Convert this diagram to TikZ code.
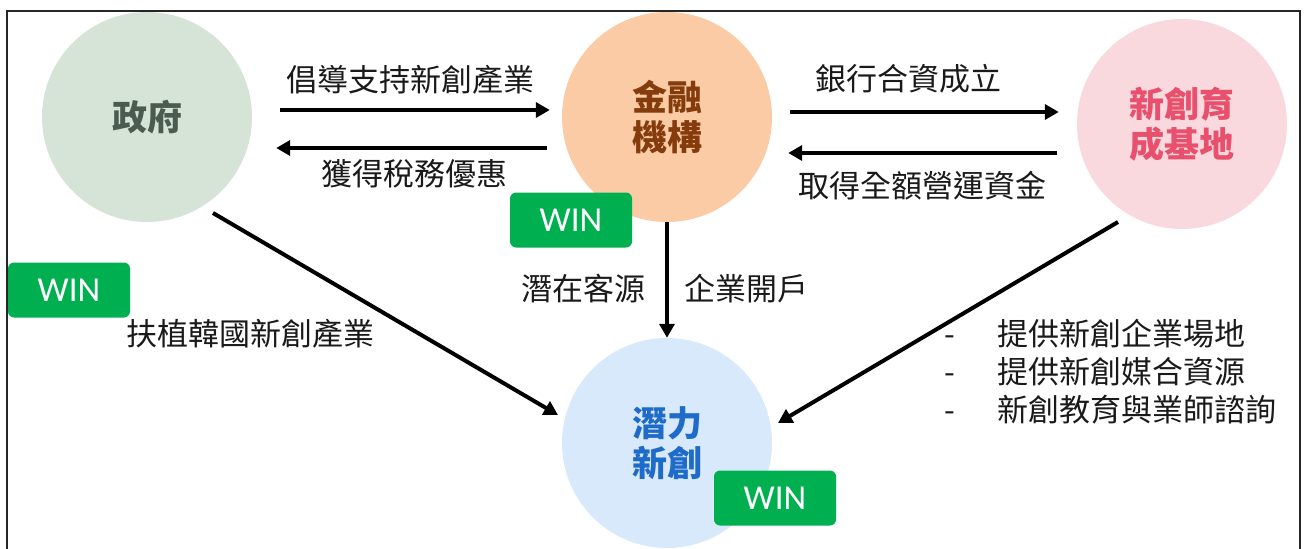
\documentclass[tikz,border=0pt]{standalone}
\usepackage{fontspec}
\setmainfont{Noto Sans CJK TC}
\newfontfamily\cjk{Noto Sans CJK TC}
\newfontfamily\winfont{Carlito}
\usetikzlibrary{arrows.meta,calc}
\definecolor{govfill}{HTML}{D6E4D7}
\definecolor{govtext}{HTML}{4C5B50}
\definecolor{finfill}{HTML}{FBCBA5}
\definecolor{fintext}{HTML}{843C0C}
\definecolor{incfill}{HTML}{F9D8DE}
\definecolor{inctext}{HTML}{E8506E}
\definecolor{stfill}{HTML}{D8E9FB}
\definecolor{sttext}{HTML}{1F6BC9}
\definecolor{wingreen}{HTML}{00B050}
\definecolor{labtext}{HTML}{1A1A1A}
\tikzset{
  party/.style={circle, minimum size=210pt, inner sep=0pt, align=center,
    font=\cjk\bfseries\fontsize{35}{40}\selectfont},
  winbox/.style={fill=wingreen, rounded corners=6pt, minimum width=122pt,
    minimum height=55pt, inner sep=0pt, text=white,
    font=\winfont\fontsize{35}{38}\selectfont},
  lab/.style={text=labtext, inner sep=0pt, font=\cjk\fontsize{31}{38}\selectfont},
  arr/.style={line width=4.6pt, -{Triangle[length=14pt,width=15pt]}},
  darr/.style={line width=4pt, -{Triangle[length=14pt,width=15pt]}},
}
\begin{document}
\begin{tikzpicture}[x=1pt,y=-1pt]
\useasboundingbox (0,0) rectangle (1307,549);
\draw[line width=1.5pt, black!85] (7,552) -- (7,11) -- (1300,11) -- (1300,552);

\node[party, fill=govfill, text=govtext] (gov) at (147,117) {政府};
\node[party, fill=finfill, text=fintext] (fin) at (667,117) {金融\\機構};
\node[party, fill=incfill, text=inctext] (inc) at (1182,124) {新創育\\成基地};
\node[party, fill=stfill, text=sttext] (st) at (667,443) {潛力\\新創};

\node[winbox] (win1) at (571,220) {WIN};
\node[winbox] (win2) at (69,290) {WIN};
\node[winbox] (win3) at (775,498) {WIN};

% government <-> finance
\draw[arr] ($(gov.east)+(28,-7)$) -- ($(fin.west)+(-12,-7)$);
\draw[arr] ($(fin.west)+(-15,31)$) -- ($(gov.east)+(24,31)$);
\node[lab] (l1) at (410,80) {倡導支持新創產業};
\node[lab] (l2) at (414,174) {獲得稅務優惠};

% finance <-> incubator
\draw[arr] ($(fin.east)+(18,-5)$) -- ($(inc.west)+(-18,-12)$);
\draw[arr] ($(inc.west)+(-20,29)$) -- ($(fin.east)+(16,36)$);
\node[lab] (l3) at (908,79) {銀行合資成立};
\node[lab] (l4) at (922,186) {取得全額營運資金};

% finance -> startup
\draw[arr] (fin.south) -- (st.north);
\node[lab] (l5) at (583,289) {潛在客源};
\node[lab] (l6) at (746,289) {企業開戶};

% government -> startup
\draw[darr] ($(gov)+(66,96)$) -- ($(st)+(-109,-28)$);
\node[lab] (l7) at (250,334) {扶植韓國新創產業};

% incubator -> startup
\draw[darr] ($(inc)+(-64,98)$) -- ($(st)+(111,-20)$);
\node[lab, anchor=west, align=left] (l8) at (944,372)
  {\makebox[53pt][l]{-}提供新創企業場地\\
   \makebox[53pt][l]{-}提供新創媒合資源\\
   \makebox[53pt][l]{-}新創教育與業師諮詢};
\end{tikzpicture}
\end{document}
